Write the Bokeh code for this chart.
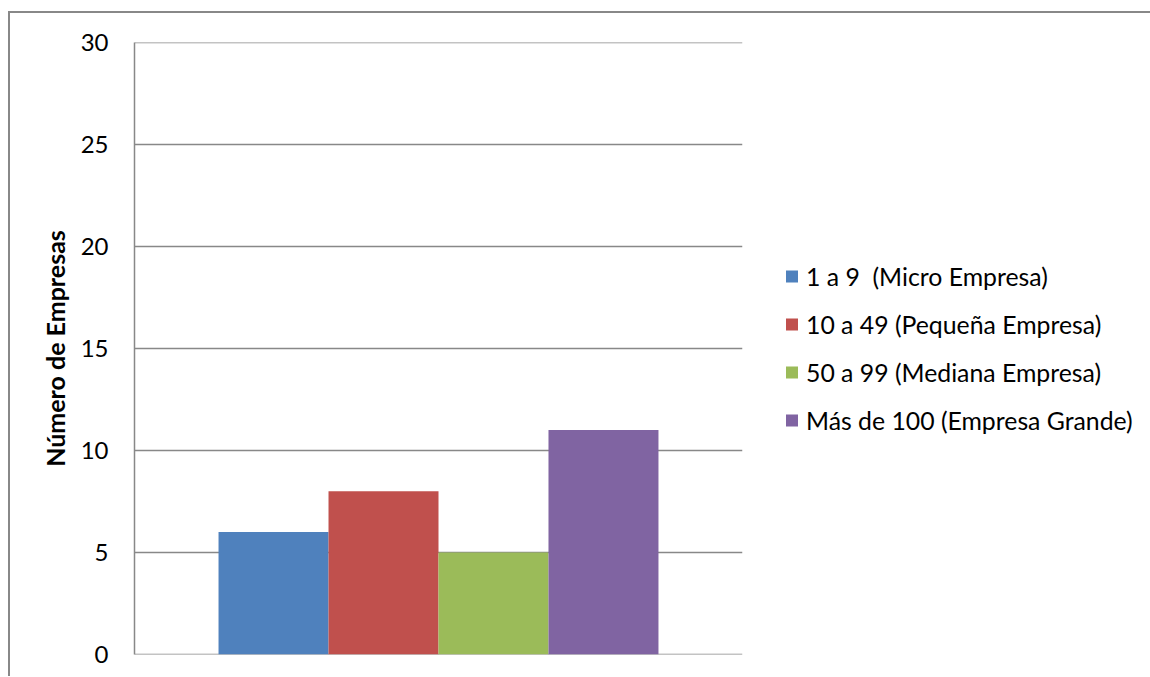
from bokeh.plotting import figure
from bokeh.models import (ColumnDataSource, FactorRange, Range1d, FixedTicker, Legend,
                          LegendItem, Span)
from bokeh.embed import file_html
from bokeh.resources import INLINE

series = ["1 a 9  (Micro Empresa)", "10 a 49 (Pequeña Empresa)",
          "50 a 99 (Mediana Empresa)", "Más de 100 (Empresa Grande)"]
values = [6, 8, 5, 11]
colors = ["#4F81BD", "#C0504D", "#9BBB59", "#8064A2"]
y_ticks = [0, 5, 10, 15, 20, 25, 30]
y_title = "Número de Empresas"

FONT = "Lato"
GRAY = "#888888"

src = ColumnDataSource(dict(series=series, values=values, colors=colors))

p = figure(frame_width=608, frame_height=612, output_backend="svg", toolbar_location=None,
           x_range=FactorRange(factors=series, range_padding=0.382),
           y_range=Range1d(y_ticks[0], y_ticks[-1]),
           min_border_left=124, min_border_top=29, min_border_bottom=22,
           min_border_right=408,
           margin=(11, 0, 0, 8),
           styles={"border-left": "2px solid #888888", "border-top": "2px solid #888888"})

p.outline_line_color = None
p.background_fill_color = "white"
p.border_fill_color = "white"

p.ygrid.grid_line_color = GRAY
p.ygrid.grid_line_width = 1.5
p.ygrid.level = "underlay"

# edge gridlines (range limits) that Bokeh's grid skips
for t in (y_ticks[0], y_ticks[-1]):
    p.add_layout(Span(location=t, dimension="width", line_color=GRAY,
                      line_width=1.5, level="underlay"))

r = p.vbar(x="series", top="values", width=1.0, source=src, fill_color="colors",
           line_color=None)

p.xaxis.visible = False
p.xgrid.visible = False

p.yaxis.ticker = FixedTicker(ticks=y_ticks)
p.yaxis.major_tick_line_color = None
p.yaxis.minor_tick_line_color = None
p.yaxis.axis_line_color = GRAY
p.yaxis.axis_line_width = 1.5
p.yaxis.major_label_standoff = 20
p.yaxis.major_label_text_font = FONT
p.yaxis.major_label_text_font_size = "24px"
p.yaxis.major_label_text_color = "black"
p.yaxis.axis_label = y_title
p.yaxis.axis_label_text_font = FONT
p.yaxis.axis_label_text_font_style = "bold"
p.yaxis.axis_label_text_font_size = "25px"
p.yaxis.axis_label_text_color = "black"
p.yaxis.axis_label_standoff = 8

items = [LegendItem(label=s, renderers=[r], index=i) for i, s in enumerate(series)]
legend = Legend(items=items, location="left", padding=0, margin=42,
                border_line_color=None, background_fill_alpha=0,
                glyph_width=15, glyph_height=15, label_standoff=7, spacing=19,
                label_text_font=FONT, label_text_font_size="24.8px",
                label_text_color="black")
p.add_layout(legend, "right")

open("out.html", "w").write(file_html(p, INLINE))
